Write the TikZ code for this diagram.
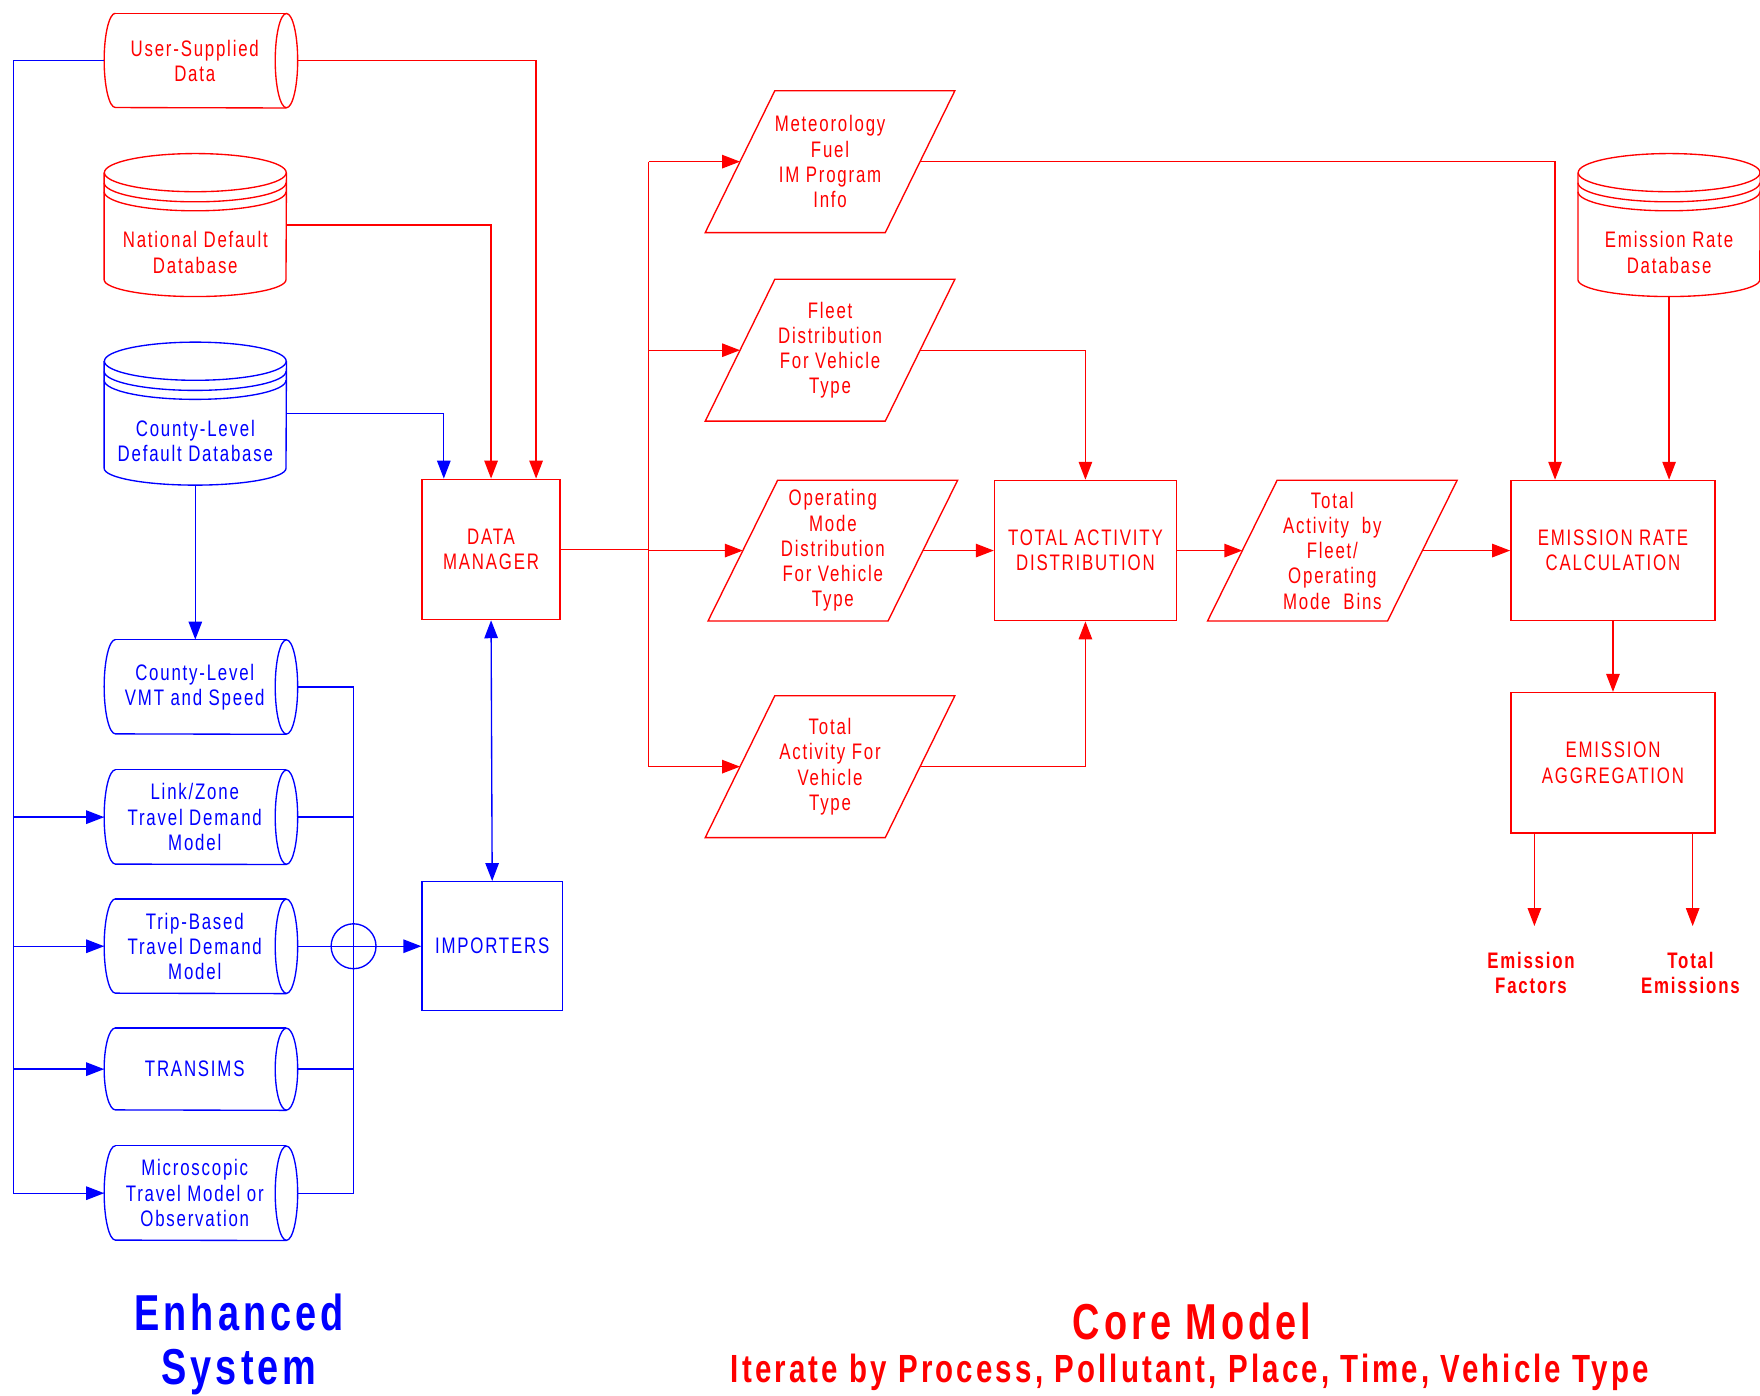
\documentclass[tikz,border=0pt]{standalone}
\usepackage{fontspec}
\setmainfont{Liberation Sans}
\newfontfamily\nf[FakeStretch=0.75,LetterSpace=8]{Liberation Sans}
\usetikzlibrary{arrows.meta,calc}
\tikzset{
  ln/.style={line width=1.2pt},
  rl/.style={ln,draw=red},
  bl/.style={ln,draw=blue},
  ar/.style={-{Triangle[length=16pt,width=12pt]}},
  dar/.style={{Triangle[length=16pt,width=12pt]}-{Triangle[length=16pt,width=12pt]}},
  txt/.style={font=\nf\fontsize{20}{22.5}\selectfont,align=center,inner sep=0pt},
  bxs/.style={txt,ln,minimum height=125pt},
}
% horizontal cylinder: name, x, y, height, colour, text
\newcommand\mkhcyl[6]{%
  \node[inner sep=0pt,minimum width=172pt,minimum height=#4pt] (#1) at (#2,#3) {};
  \node[txt,text=#5] (#1t) at ($(#1.center)+(-5.5pt,0pt)$) {#6};
  \draw[ln,draw=#5] ($(#1.north west)+(10pt,0pt)$) arc[start angle=90,end angle=270,x radius=10pt,y radius=#4pt/2] -- ($(#1.south east)+(-10pt,0pt)$);
  \draw[ln,draw=#5] ($(#1.north west)+(10pt,0pt)$) -- ($(#1.north east)+(-10pt,0pt)$);
  \draw[ln,draw=#5] ($(#1.east)+(-10pt,0pt)$) ellipse[x radius=10pt,y radius=#4pt/2];
}
% database cylinder: name, x, y, colour, text
\newcommand\mkdb[5]{%
  \node[minimum width=162pt,minimum height=127pt,inner sep=0pt] (#1) at (#2,#3) {};
  \node[txt,text=#4] (#1t) at ($(#1.center)+(0pt,-24.5pt)$) {#5};
  \draw[ln,draw=#4] ($(#1.north)+(0pt,-17pt)$) ellipse[x radius=81pt,y radius=17pt];
  \draw[ln,draw=#4] ($(#1.north west)+(0pt,-17pt)$) -- ($(#1.south west)+(0pt,15pt)$) arc[start angle=180,end angle=360,x radius=81pt,y radius=15pt] -- ($(#1.north east)+(0pt,-17pt)$);
  \draw[ln,draw=#4] ($(#1.north west)+(0pt,-26pt)$) arc[start angle=180,end angle=360,x radius=81pt,y radius=17pt];
  \draw[ln,draw=#4] ($(#1.north west)+(0pt,-34pt)$) arc[start angle=180,end angle=360,x radius=81pt,y radius=17pt];
}
% parallelogram: name, x, y, height, text
\newcommand\mkpg[5]{%
  \node[txt,text=red,minimum width=160pt,minimum height=#4pt] (#1) at (#2,#3) {#5};
  \draw[rl] ($(#1.north west)+(31pt,0pt)$) -- ($(#1.north east)+(31pt,0pt)$) -- ($(#1.south east)+(-31pt,0pt)$) -- ($(#1.south west)+(-31pt,0pt)$) -- cycle;
}
\begin{document}
\begin{tikzpicture}[x=1pt,y=-1pt]
\useasboundingbox (0,0) rectangle (1568,1243);

% left column
\mkhcyl{usd}{179}{54}{84}{red}{User-Supplied\\Data}
\mkdb{nat}{174}{200.5}{red}{National Default\\Database}
\mkdb{cdb}{174}{368.5}{blue}{County-Level\\Default Database}
\mkhcyl{vmt}{179}{612}{84}{blue}{County-Level\\VMT and Speed}
\mkhcyl{link}{179}{728}{84}{blue}{Link/Zone\\Travel Demand\\Model}
\mkhcyl{trip}{179}{843}{84}{blue}{Trip-Based\\Travel Demand\\Model}
\mkhcyl{trans}{179}{952.5}{73}{blue}{TRANSIMS}
\mkhcyl{micro}{179}{1063}{84}{blue}{Microscopic\\Travel Model or\\Observation}

% boxes
\node[bxs,draw=red,text=red,minimum width=123pt] (dm) at (437.5,489.5) {DATA\\MANAGER};
\node[txt,ln,draw=blue,text=blue,minimum width=125pt,minimum height=115pt] (imp) at (438.5,843) {IMPORTERS};
\node[bxs,draw=red,text=red,minimum width=162pt] (tad) at (967,490.5) {TOTAL ACTIVITY\\DISTRIBUTION};
\node[bxs,draw=red,text=red,minimum width=182pt] (erc) at (1437,490.5) {EMISSION RATE\\CALCULATION};
\node[bxs,draw=red,text=red,minimum width=182pt] (ea) at (1437,679.5) {EMISSION\\AGGREGATION};

% parallelograms
\mkpg{met}{739.5}{144}{126}{Meteorology\\Fuel\\IM Program\\Info}
\mkpg{fleet}{739.5}{312}{126}{Fleet\\Distribution\\For Vehicle\\Type}
\mkpg{opm}{742}{490.5}{125}{Operating\\Mode\\Distribution\\For Vehicle\\Type}
\mkpg{tafvt}{739.5}{683}{126}{Total\\Activity For\\Vehicle\\Type}
\mkpg{tab}{1187}{490.5}{125}{Total\\Activity\ \ by\\Fleet/\\Operating\\Mode\ \ Bins}

\mkdb{erdb}{1487}{200.5}{red}{Emission Rate\\Database}

% blue connectors
\coordinate (lb) at (12,1063);
\coordinate (rb) at (315,843);
\draw[bl,ar] (usd.west) -| (lb) -- (micro.west);
\foreach \n in {link,trip,trans} \draw[bl,ar] (\n.west -| lb) -- (\n.west);
\draw[bl] (vmt.east) -| (micro.east -| rb) -- (micro.east);
\foreach \n in {link,trans} \draw[bl] (\n.east) -- (\n.east -| rb);
\node[circle,ln,draw=blue,minimum size=40pt,inner sep=0pt] (jn) at (rb) {};
\draw[bl,ar] (trip.east) -- (imp.west);
\draw[bl,dar] (dm.south) -- (imp.north);
\draw[bl,ar] (cdb.south) -- (cdb.south |- vmt.north);
\draw[bl,ar] (cdb.east) -| ($(dm.north west)+(20pt,0pt)$);

% red connectors
\draw[rl,ar] (usd.east) -| ($(dm.north east)+(-22pt,0pt)$);
\draw[rl,ar] (nat.east) -| (dm.north);
\coordinate (bx) at (578,0);
\draw[rl] (dm.east) -- (dm.east -| bx);
\draw[rl] (met.west -| bx) -- (tafvt.west -| bx);
\foreach \n in {met,fleet,opm,tafvt} \draw[rl,ar] (\n.west -| bx) -- (\n.west);
\draw[rl,ar] (met.east) -| ($(erc.north west)+(40pt,0pt)$);
\draw[rl,ar] (fleet.east) -| (tad.north);
\draw[rl,ar] (opm.east) -- (tad.west);
\draw[rl,ar] (tafvt.east) -| (tad.south);
\draw[rl,ar] (tad.east) -- (tab.west);
\draw[rl,ar] (tab.east) -- (erc.west);
\draw[rl,ar] (erdb.south) -- (erdb.south |- erc.north);
\draw[rl,ar] (erc.south) -- (ea.north);
\coordinate (efa) at (1367,825);
\coordinate (tea) at (1508,825);
\draw[rl,ar] (ea.south -| efa) -- (efa);
\draw[rl,ar] (ea.south -| tea) -- (tea);
\node[txt,text=red,font=\nf\bfseries\fontsize{20}{22.5}\selectfont] (ef) at (1364,867) {Emission\\Factors};
\node[txt,text=red,font=\nf\bfseries\fontsize{20}{22.5}\selectfont] (te) at (1506,867) {Total\\Emissions};

% titles
\node[align=center,inner sep=0pt,text=blue,font=\nf\bfseries\fontsize{45}{48}\selectfont] (enh) at (213,1198) {Enhanced\\System};
\node[inner sep=0pt,text=red,font=\nf\bfseries\fontsize{45}{48}\selectfont] (core) at (1062,1177) {Core Model};
\node[inner sep=0pt,text=red,font=\nf\bfseries\fontsize{35}{40}\selectfont] (iter) at (1060,1223) {Iterate by Process, Pollutant, Place, Time, Vehicle Type};
\end{tikzpicture}
\end{document}
